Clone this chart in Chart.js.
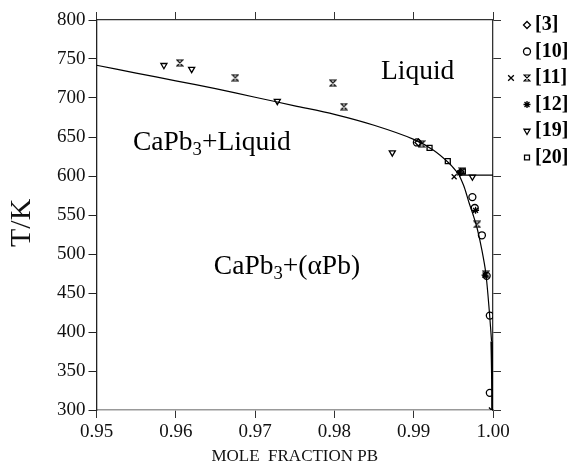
<!DOCTYPE html>
<html>
<head>
<meta charset="utf-8">
<script src="https://cdn.jsdelivr.net/npm/chart.js@4.4.1/dist/chart.umd.min.js"></script>
<style>
  html, body { margin: 0; padding: 0; background: #fff; }
</style>
</head>
<body>
<canvas id="c" width="574" height="470"></canvas>
<script>
// measured points, [mole fraction Pb, T/K]
const ref3 = [[0.9906, 643], [0.9959, 605]];
const ref10 = [[0.9904, 643], [0.9974, 573], [0.9977, 559], [0.9986, 524], [0.9992, 472], [0.9996, 421], [0.9996, 322]];
const ref11 = [[0.9605, 745], [0.9675, 726], [0.9798, 719], [0.9812, 689], [0.9910, 641], [0.9961, 606], [0.9980, 538], [0.9991, 474]];
const ref12 = [[0.9958, 604], [0.9978, 556], [0.9990, 473]];
const ref19 = [[0.9585, 742], [0.9620, 737], [0.9728, 696], [0.9873, 630], [0.9974, 599]];
const ref20 = [[0.9920, 636], [0.9943, 619], [0.9962, 606]];
const crosses = [[0.9951, 599], [0.9998, 300]];

// calculated phase boundaries
const liquidus = [[0.95, 742], [0.955, 732], [0.96, 722], [0.965, 712], [0.97, 701], [0.975, 690],
  [0.98, 679], [0.985, 665], [0.99, 647], [0.9925, 633], [0.9945, 616], [0.9957, 602]];
const eutectic = [[0.9957, 601], [1.0, 601]];
const solvus = [[0.9957, 602], [0.9964, 585], [0.9970, 565], [0.9975, 550], [0.9980, 533], [0.9986, 505],
  [0.9991, 475], [0.99955, 425], [0.99982, 388]];
const solvusEnd = [[0.99982, 388], [0.99990, 345], [0.99992, 300]];

const xTicks = [0.95, 0.96, 0.97, 0.98, 0.99, 1.00];
const yTicks = [300, 350, 400, 450, 500, 550, 600, 650, 700, 750, 800];

const regionLabels = [
  { parts: [['Liquid', 0]], x: 0.9905, y: 733, align: 'center' },
  { parts: [['CaPb', 0], ['3', 1], ['+Liquid', 0]], x: 0.9546, y: 642, align: 'left' },
  { parts: [['CaPb', 0], ['3', 1], ['+(\u03b1Pb)', 0]], x: 0.9648, y: 483, align: 'left' }
];
const legendNames = ['[3]', '[10]', '[11]', '[12]', '[19]', '[20]'];

const serif = 'Liberation Serif';
const pts = arr => arr.map(([x, y]) => ({ x, y }));

// hourglass marker
const hourglass = document.createElement('canvas');
hourglass.width = 8; hourglass.height = 8;
(() => {
  const g = hourglass.getContext('2d');
  g.strokeStyle = '#000'; g.lineWidth = 1.2;
  g.beginPath();
  g.moveTo(1, 1); g.lineTo(7, 1); g.lineTo(1, 7); g.lineTo(7, 7); g.closePath();
  g.stroke();
})();

const markerSet = (label, data, pointStyle, rotation = 0) => ({
  label, data: pts(data), showLine: false, pointStyle, rotation,
  pointRadius: 3.5, borderColor: '#000', backgroundColor: 'rgba(0,0,0,0)', borderWidth: 1.3
});
const lineSet = (data, width = 1.2) => ({
  data: pts(data), showLine: true, pointRadius: 0, borderColor: '#000',
  borderWidth: width, tension: 0.3, fill: false
});

const regionText = {
  id: 'regionText',
  afterDatasetsDraw(chart) {
    const { ctx, scales: { x, y } } = chart;
    ctx.save();
    ctx.fillStyle = '#000';
    ctx.textBaseline = 'middle';
    regionLabels.forEach(l => {
      const size = 27.5;
      const widths = l.parts.map(([t, sub]) => {
        ctx.font = `${sub ? size * 0.68 : size}px "${serif}"`;
        return ctx.measureText(t).width;
      });
      const total = widths.reduce((a, b) => a + b, 0);
      let px = x.getPixelForValue(l.x);
      if (l.align === 'center') px -= total / 2;
      const py = y.getPixelForValue(l.y);
      l.parts.forEach(([t, sub], i) => {
        ctx.font = `${sub ? size * 0.68 : size}px "${serif}"`;
        ctx.textAlign = 'left';
        ctx.fillText(t, px, sub ? py + 7 : py);
        px += widths[i];
      });
    });
    // y axis title
    ctx.font = `30px "${serif}"`;
    ctx.fillStyle = '#111';
    ctx.translate(22, y.getPixelForValue(540));
    ctx.rotate(-Math.PI / 2);
    ctx.textAlign = 'center';
    ctx.fillText('T/K', 0, 0);
    ctx.restore();
  }
};

const sideLegend = {
  id: 'sideLegend',
  afterDraw(chart) {
    const { ctx } = chart;
    const draw = Chart.helpers && Chart.helpers.drawPoint;
    const styles = [
      { pointStyle: 'rectRot', rotation: 0 },
      { pointStyle: 'circle', rotation: 0 },
      { pointStyle: hourglass, rotation: 0 },
      { pointStyle: 'star', rotation: 0 },
      { pointStyle: 'triangle', rotation: 180 },
      { pointStyle: 'rect', rotation: 0 }
    ];
    ctx.save();
    legendNames.forEach((name, i) => {
      const yy = 25 + i * 26.5;
      ctx.strokeStyle = '#000';
      ctx.fillStyle = 'rgba(0,0,0,0)';
      ctx.lineWidth = 1.3;
      if (draw) draw(ctx, { ...styles[i], radius: 3.5, borderWidth: 1.3 }, 527, yy);
      if (i === 2 && draw) draw(ctx, { pointStyle: 'crossRot', radius: 4, borderWidth: 1 }, 511, yy);
      ctx.fillStyle = '#000';
      ctx.font = `bold 20px "${serif}"`;
      ctx.textAlign = 'left';
      ctx.textBaseline = 'middle';
      ctx.fillText(name, 535, yy);
    });
    ctx.restore();
  }
};

const tickFont = { family: serif, size: 19 };
const edgeAxis = (position, extra) => Object.assign({
  type: 'linear', position,
  ticks: { display: false },
  grid: { drawOnChartArea: false, tickLength: 8, color: '#333' },
  border: { color: '#333', width: 1.3 }
}, extra);

new Chart(document.getElementById('c'), {
  type: 'scatter',
  data: {
    datasets: [
      markerSet('[3]', ref3, 'rectRot'),
      markerSet('[10]', ref10, 'circle'),
      markerSet('[11]', ref11, hourglass),
      markerSet('[12]', ref12, 'star'),
      markerSet('[19]', ref19, 'triangle', 180),
      markerSet('[20]', ref20, 'rect'),
      markerSet('x', crosses, 'crossRot'),
      lineSet(liquidus),
      lineSet(eutectic),
      lineSet(solvus),
      lineSet(solvusEnd, 2.4)
    ]
  },
  options: {
    responsive: false,
    animation: false,
    devicePixelRatio: 1,
    layout: { padding: 0 },
    plugins: { legend: { display: false }, tooltip: { enabled: false } },
    scales: {
      x: {
        type: 'linear', position: 'bottom', min: xTicks[0], max: xTicks[xTicks.length - 1],
        afterBuildTicks: s => { s.ticks = xTicks.map(v => ({ value: v })); },
        ticks: { callback: v => v.toFixed(2), font: tickFont, color: '#111', padding: 3, maxRotation: 0, autoSkip: false },
        grid: { drawOnChartArea: false, tickLength: 8, color: '#333' },
        border: { color: '#999', width: 1.5 },
        title: { display: true, text: 'MOLE  FRACTION PB', font: { family: serif, size: 17 }, color: '#111', padding: { top: 0, bottom: 3 } },
        afterFit: s => { s.height = 60; }
      },
      x2: edgeAxis('top', {
        min: xTicks[0], max: xTicks[xTicks.length - 1],
        afterBuildTicks: s => { s.ticks = xTicks.map(v => ({ value: v })); },
        afterFit: s => { s.height = 20; }
      }),
      y: {
        type: 'linear', position: 'left', min: yTicks[0], max: yTicks[yTicks.length - 1],
        afterBuildTicks: s => { s.ticks = yTicks.map(v => ({ value: v })); },
        ticks: { font: tickFont, color: '#111', padding: 3 },
        grid: { drawOnChartArea: false, tickLength: 8, color: '#222' },
        border: { color: '#222', width: 1.3 },
        afterFit: s => { s.width = 96.5; }
      },
      y2: edgeAxis('right', {
        min: yTicks[0], max: yTicks[yTicks.length - 1],
        afterBuildTicks: s => { s.ticks = yTicks.map(v => ({ value: v })); },
        afterFit: s => { s.width = 81; }
      })
    }
  },
  plugins: [regionText, sideLegend]
});
</script>
</body>
</html>
